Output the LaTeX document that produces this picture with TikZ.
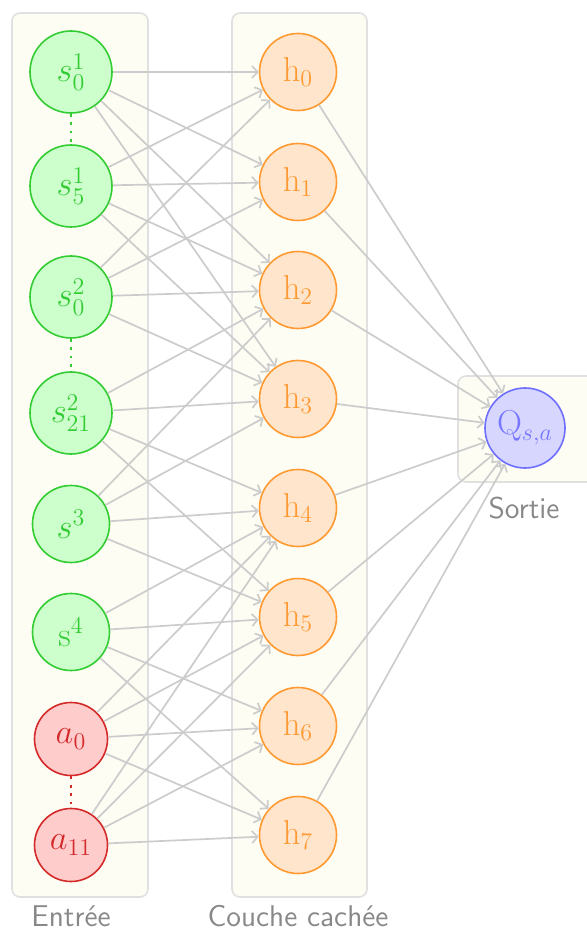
\documentclass[tikz,border=0pt]{standalone}
\usetikzlibrary{arrows.meta}
\definecolor{gfill}{HTML}{CCFFCC}
\definecolor{gline}{HTML}{33CC33}
\definecolor{rfill}{HTML}{FFCCCC}
\definecolor{rline}{HTML}{D42A2A}
\definecolor{ofill}{HTML}{FFE5CC}
\definecolor{oline}{HTML}{FF9A33}
\definecolor{bfill}{HTML}{D6D6FF}
\definecolor{bline}{HTML}{6E6EFF}
\definecolor{btext}{HTML}{7777FF}
\definecolor{edgec}{HTML}{CCCCCC}
\definecolor{boxline}{HTML}{E0E0E0}
\definecolor{boxfill}{HTML}{FDFDF3}
\definecolor{capc}{HTML}{888888}
\begin{document}
\begin{tikzpicture}[x=0.5pt,y=-0.5pt,
  layerbox/.style={draw=boxline, fill=boxfill, rounded corners=4pt, line width=0.8pt},
  neuron/.style={circle, line width=0.8pt, inner sep=0pt, font=\fontsize{16.5}{19}\selectfont},
  inp/.style={neuron, draw=gline, fill=gfill, text=gline},
  act/.style={neuron, draw=rline, fill=rfill, text=rline, minimum size=36.5pt},
  hid/.style={neuron, draw=oline, fill=ofill, text=oline, minimum size=38.5pt},
  outn/.style={neuron, draw=bline, fill=bfill, text=btext, minimum size=40pt},
  captext/.style={text=capc, inner sep=0pt, anchor=base, font=\sffamily\fontsize{15}{18}\selectfont},
  conn/.style={draw=edgec, line width=0.85pt, -{Straight Barb[length=2.8pt,width=6pt]}},
  dots/.style={line width=1.4pt, dash pattern=on 1.4pt off 2.8pt}
]
\useasboundingbox (0,0) rectangle (587,929);
\draw[layerbox] (12,13) rectangle (148,897);
\draw[layerbox] (232,13) rectangle (367,897);
\draw[layerbox] (458,376) rectangle (610,482);

\node[inp, minimum size=41pt] (i1) at (71,72) {$s^1_0$};
\node[inp, minimum size=41pt] (i2) at (71,186) {$s^1_5$};
\node[inp, minimum size=41pt] (i3) at (71,297) {$s^2_0$};
\node[inp, minimum size=41pt] (i4) at (71,413) {$s^2_{21}$};
\node[inp, minimum size=38.5pt] (i5) at (71,524) {$s^3$};
\node[inp, minimum size=38.5pt] (i6) at (71,632) {$\mathrm{s}^4$};
\node[act] (i7) at (71,739) {$a_0$};
\node[act] (i8) at (71,845) {$a_{11}$};

\node[hid] (h0) at (298,72) {$\mathrm{h}_0$};
\node[hid] (h1) at (298,182) {$\mathrm{h}_1$};
\node[hid] (h2) at (298,290) {$\mathrm{h}_2$};
\node[hid] (h3) at (298,399) {$\mathrm{h}_3$};
\node[hid] (h4) at (298,508) {$\mathrm{h}_4$};
\node[hid] (h5) at (298,617) {$\mathrm{h}_5$};
\node[hid] (h6) at (298,726) {$\mathrm{h}_6$};
\node[hid] (h7) at (298,835) {$\mathrm{h}_7$};

\node[outn] (q) at (525,428) {$\mathrm{Q}_{s,a}$};

\node[captext] (cin) at (71,926) {Entrée};
\node[captext] (chid) at (298,926) {Couche cachée};
\node[captext] (cout) at (524,518) {Sortie};

\draw[gline, dots] (i1) -- (i2);
\draw[gline, dots] (i3) -- (i4);
\draw[rline, dots] (i7) -- (i8);

\foreach \i in {i1,i2,i3}{\foreach \h in {h0,h1,h2,h3}{\draw[conn] (\i) -- (\h);}}
\foreach \i in {i4,i5}{\foreach \h in {h2,h3,h4,h5}{\draw[conn] (\i) -- (\h);}}
\foreach \i in {i6,i7,i8}{\foreach \h in {h4,h5,h6,h7}{\draw[conn] (\i) -- (\h);}}
\foreach \h in {h0,h1,h2,h3,h4,h5,h6,h7}{\draw[conn] (\h) -- (q);}
\end{tikzpicture}
\end{document}
